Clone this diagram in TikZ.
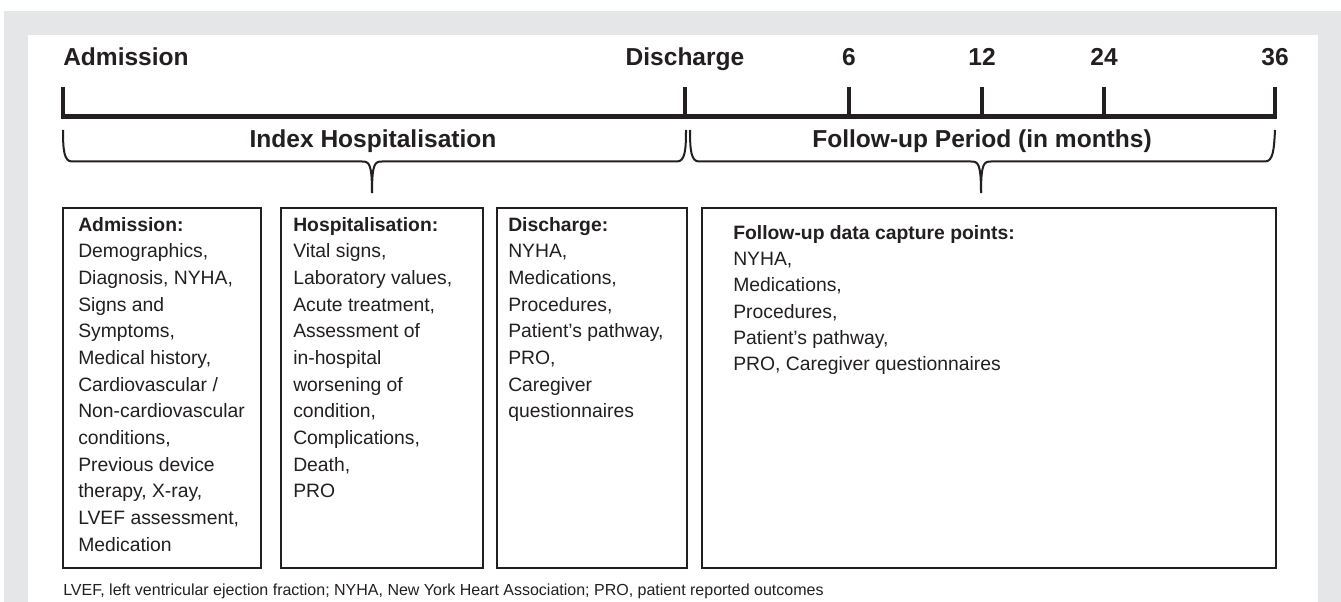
\documentclass[tikz,border=0pt]{standalone}
\usepackage{fontspec}
\setmainfont{Liberation Sans}
\definecolor{ink}{HTML}{231F20}
\definecolor{framegray}{HTML}{E5E6E8}
\tikzset{
  toplabel/.style={font=\fontsize{18.4}{20}\selectfont\bfseries, text=ink, inner sep=0pt, anchor=base},
  periodlabel/.style={font=\fontsize{18.4}{20}\selectfont\bfseries, text=ink, inner sep=0pt, anchor=base},
  timeline/.style={draw=ink, line width=3.4pt, line join=miter},
  bracepath/.style={draw=ink, line width=1.5pt},
  infobox/.style={draw=ink, line width=2pt, anchor=north west, inner sep=0pt, outer sep=0pt, minimum height=270pt},
  boxtext/.style={align=left, anchor=north west, inner sep=0pt, text=ink, font=\fontsize{14.5}{20}\selectfont},
  boxtextwide/.style={boxtext, font=\fontsize{14.5}{19.7}\selectfont},
  footnotetext/.style={anchor=base west, inner sep=0pt, text=ink, font=\fontsize{12}{14}\selectfont}
}
\begin{document}
\begin{tikzpicture}[x=0.75pt,y=-0.75pt]
\useasboundingbox (0,0) rectangle (1341,602);
% frame
\fill[framegray] (4,11) rectangle (1341,602);
\fill[white] (28,35) rectangle (1318,602);

% top labels
\node[toplabel, anchor=base west] (ladm) at (63,66) {Admission};
\node[toplabel] (ldis) at (685,66) {Discharge};
\node[toplabel] (l6) at (849,66) {6};
\node[toplabel] (l12) at (982,66) {12};
\node[toplabel] (l24) at (1104,66) {24};
\node[toplabel] (l36) at (1275,66) {36};

% timeline
\draw[timeline] (63,87) -- (63,116.5) -- (1275,116.5) -- (1275,87);
\foreach \tx in {685,849,982,1104}{
  \draw[timeline] (\tx,87) -- (\tx,116.5);
}

% braces
\draw[bracepath] (63,130) .. controls (63,150) and (64,161.5) .. (72,161.5) -- (362,161.5)
  .. controls (369,161.5) and (372,163) .. (372,193);
\draw[bracepath] (686,130) .. controls (686,150) and (685,161.5) .. (677,161.5) -- (382,161.5)
  .. controls (375,161.5) and (372,163) .. (372,193);
\draw[bracepath] (690,130) .. controls (690,150) and (691,161.5) .. (699,161.5) -- (971,161.5)
  .. controls (978,161.5) and (981,163) .. (981,193);
\draw[bracepath] (1275,130) .. controls (1274,150) and (1273,161.5) .. (1265,161.5) -- (991,161.5)
  .. controls (984,161.5) and (981,163) .. (981,193);

\node[periodlabel] (pidx) at (373,148) {Index Hospitalisation};
\node[periodlabel] (pfu) at (982,148) {Follow-up Period (in months)};

% boxes
\node[infobox, minimum width=148.5pt] (b1) at (63,208) {};
\node[infobox, minimum width=151.5pt] (b2) at (281,208) {};
\node[infobox, minimum width=142.5pt] (b3) at (497,208) {};
\node[infobox, minimum width=430.5pt] (b4) at (702,208) {};

\node[boxtext] (t1) at (78,217) {\textbf{Admission:}\\Demographics,\\Diagnosis, NYHA,\\Signs and\\Symptoms,\\Medical history,\\Cardiovascular /\\Non-cardiovascular\\conditions,\\Previous device\\therapy, X-ray,\\LVEF assessment,\\Medication};
\node[boxtext] (t2) at (293,217) {\textbf{Hospitalisation:}\\Vital signs,\\Laboratory values,\\Acute treatment,\\Assessment of\\in-hospital\\worsening of\\condition,\\Complications,\\Death,\\PRO};
\node[boxtext] (t3) at (508,217) {\textbf{Discharge:}\\NYHA,\\Medications,\\Procedures,\\Patient’s pathway,\\PRO,\\Caregiver\\questionnaires};
\node[boxtextwide] (t4) at (733,225) {\textbf{Follow-up data capture points:}\\NYHA,\\Medications,\\Procedures,\\Patient’s pathway,\\PRO, Caregiver questionnaires};

\node[footnotetext] (fn) at (63,595) {LVEF, left ventricular ejection fraction; NYHA, New York Heart Association; PRO, patient reported outcomes};
\end{tikzpicture}
\end{document}
